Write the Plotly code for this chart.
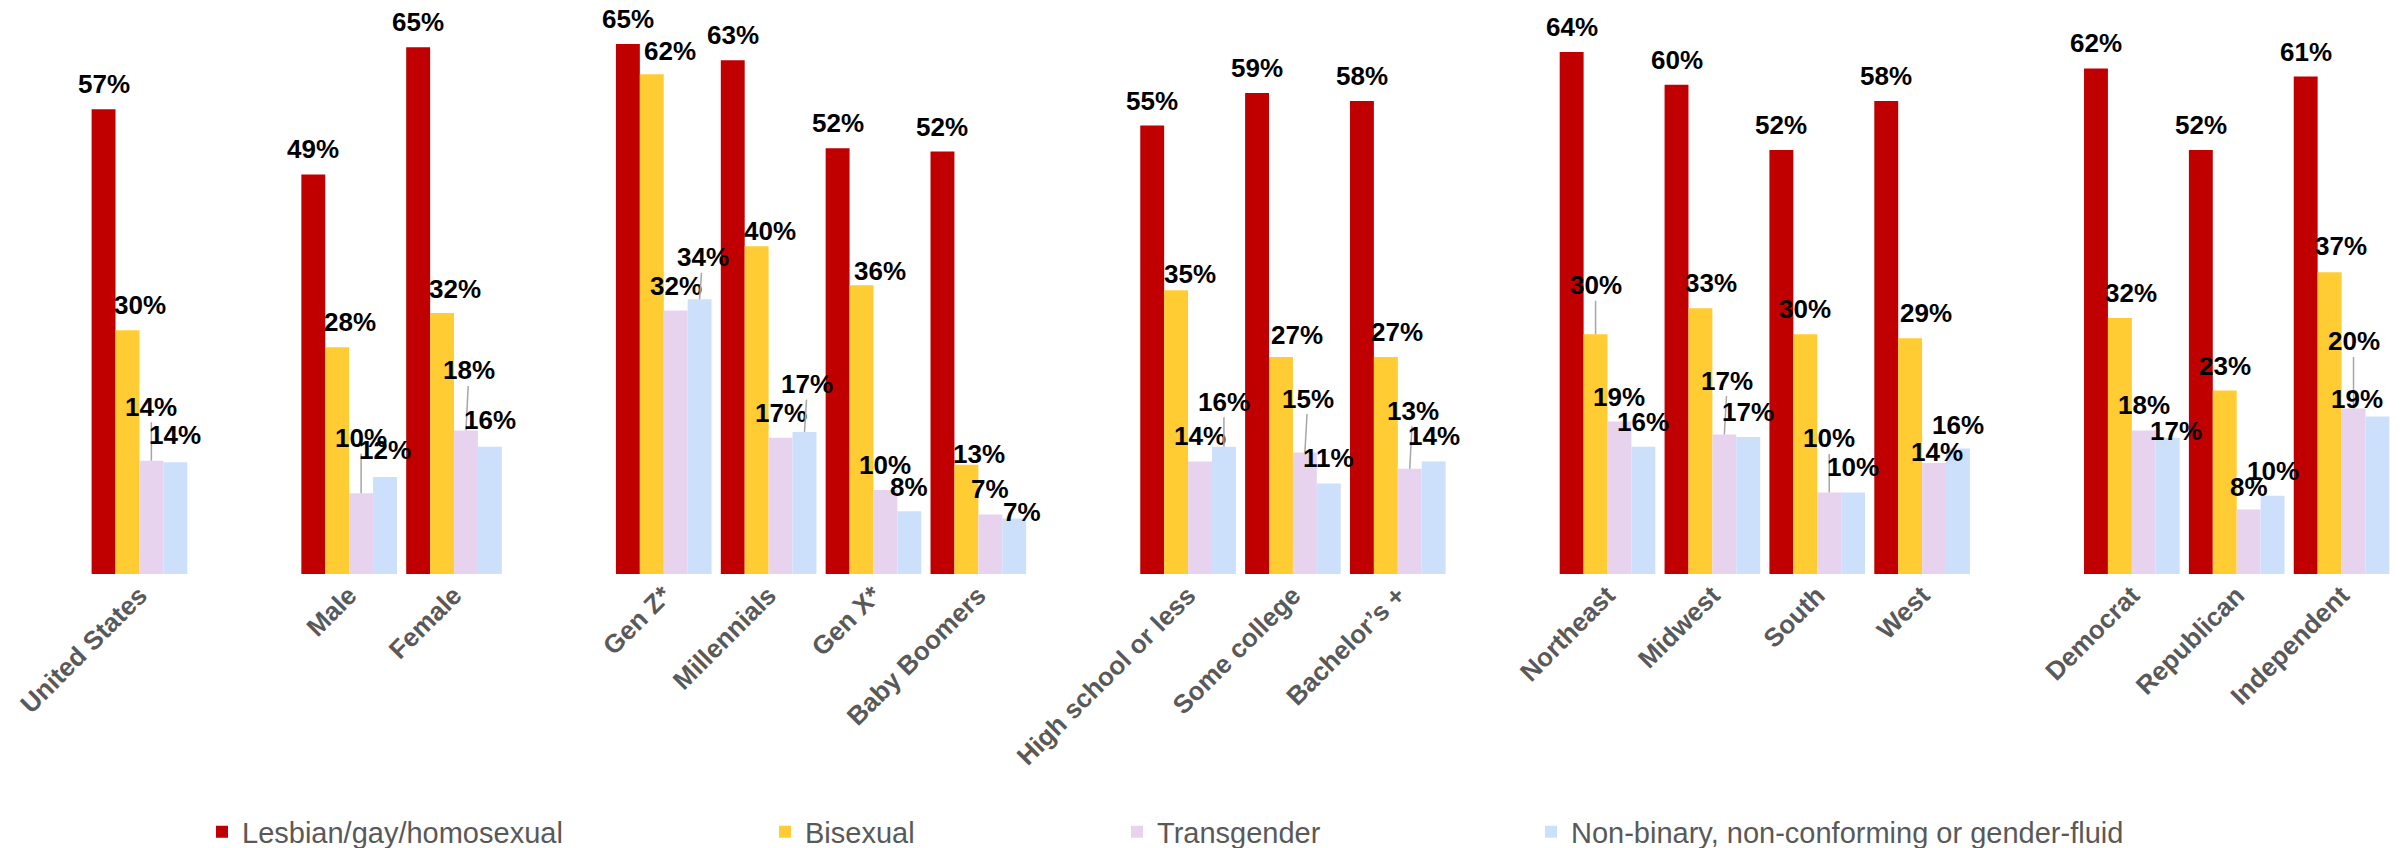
import plotly.graph_objects as go

# ---------------- data ----------------
slots = ["United States", " ", "Male", "Female", "  ", "Gen Z*", "Millennials", "Gen X*",
         "Baby Boomers", "   ", "High school or less", "Some college", "Bachelor’s +", "    ",
         "Northeast", "Midwest", "South", "West", "     ", "Democrat", "Republican", "Independent"]
groups = [s for s in slots if s.strip()]

series_names = ["Lesbian/gay/homosexual", "Bisexual", "Transgender",
                "Non-binary, non-conforming or gender-fluid"]

lgb_values = [57, 49, 64.6, 65, 63, 52.2, 51.8, 55, 59, 58, 64, 60, 52, 58, 62, 52, 61]
bis_values = [29.9, 27.8, 32, 61.3, 40.2, 35.4, 13.4, 34.8, 26.6, 26.6, 29.4, 32.6, 29.4, 28.9, 31.4, 22.5, 37]
trans_values = [13.9, 9.9, 17.6, 32.3, 16.7, 10.3, 7.3, 13.8, 14.9, 12.9, 18.7, 17.1, 10, 13.6, 17.6, 7.9, 20.3]
nonbin_values = [13.7, 11.9, 15.6, 33.7, 17.4, 7.7, 6.8, 15.6, 11.1, 13.8, 15.6, 16.8, 10, 15.4, 16.7, 9.6, 19.3]

lgb_labels = [57, 49, 65, 65, 63, 52, 52, 55, 59, 58, 64, 60, 52, 58, 62, 52, 61]
bis_labels = [30, 28, 32, 62, 40, 36, 13, 35, 27, 27, 30, 33, 30, 29, 32, 23, 37]
trans_labels = [14, 10, 18, 32, 17, 10, 7, 14, 15, 13, 19, 17, 10, 14, 18, 8, 20]
nonbin_labels = [14, 12, 16, 34, 17, 8, 7, 16, 11, 14, 16, 17, 10, 16, 17, 10, 19]

# ---------------- styles ----------------
colors = ["#C00000", "#FFCC33", "#E8D3EE", "#CCE0FB"]
W, H = 2402, 848
ML, MR, MT, MB = 87, 8, 4, 274
BARGAP = 0.088
Y_MAX = 69.9

# label placement tweaks: (series index, group) -> (dx px, height above bar top px, leader line)
DEFAULT_RAISE = 25
label_adjust = {
    (1, "United States"): (13, 25, False), (1, "Male"): (13, 25, False), (1, "Female"): (13, 24, False),
    (1, "Gen Z*"): (18, 23, False), (1, "Millennials"): (13, 15, False), (1, "Gen X*"): (18, 14, False),
    (1, "Baby Boomers"): (13, 11, False), (1, "High school or less"): (14, 16, False),
    (1, "Some college"): (16, 22, False), (1, "Bachelor’s +"): (11, 25, False),
    (1, "Northeast"): (0, 49, True), (1, "Midwest"): (11, 25, False), (1, "West"): (16, 25, False),
    (1, "Democrat"): (11, 25, False), (1, "Independent"): (11, 26, False),
    (2, "United States"): (0, 54, True), (2, "Male"): (0, 55, True), (2, "Female"): (3, 60, True),
    (2, "Some college"): (3, 54, True), (2, "Bachelor’s +"): (3, 58, True),
    (2, "Midwest"): (3, 54, True), (2, "South"): (0, 54, True), (2, "West"): (3, 11, False),
    (2, "Republican"): (0, 23, False), (2, "Independent"): (0, 67, True),
    (3, "United States"): (0, 27, False), (3, "Male"): (0, 27, False), (3, "Female"): (0, 27, False),
    (3, "Gen Z*"): (3, 42, True), (3, "Millennials"): (3, 48, True), (3, "Gen X*"): (0, 24, False),
    (3, "Baby Boomers"): (8, 7, False), (3, "High school or less"): (0, 45, True),
    (3, "West"): (0, 23, False), (3, "Democrat"): (8, 7, False), (3, "Independent"): (-20, 18, False),
}

values = [lgb_values, bis_values, trans_values, nonbin_values]
labels = [lgb_labels, bis_labels, trans_labels, nonbin_labels]

fig = go.Figure()
legend_ids = ["legend", "legend2", "legend3", "legend4"]
for k, name in enumerate(series_names):
    fig.add_trace(go.Bar(
        x=groups, y=values[k], name=name, marker=dict(color=colors[k], line=dict(width=0)),
        legend=legend_ids[k], showlegend=True, hoverinfo="skip",
    ))

plot_w = W - ML - MR
plot_h = H - MT - MB
slot_px = plot_w / len(slots)
bar_px = slot_px * (1 - BARGAP) / len(series_names)

label_font = dict(family="Liberation Sans, Arial, sans-serif", size=26, color="#000000", weight="bold")
annotations = []
for k in range(len(series_names)):
    base_shift = (k - (len(series_names) - 1) / 2) * bar_px
    for g, v, lab in zip(groups, values[k], labels[k]):
        dx, rise, leader = label_adjust.get((k, g), (0, DEFAULT_RAISE, False))
        text = f"{lab}%"
        if leader:
            annotations.append(dict(
                x=g, y=v, xref="x", yref="y", text=text, font=label_font,
                showarrow=True, arrowhead=0, arrowwidth=1.5, arrowcolor="#A6A6A6",
                ax=dx, ay=-rise, xshift=base_shift, standoff=0, borderpad=0,
            ))
        else:
            annotations.append(dict(
                x=g, y=v, xref="x", yref="y", text=text, font=label_font,
                showarrow=False, xanchor="center", yanchor="middle",
                xshift=base_shift + dx, yshift=rise, borderpad=0,
            ))

# legend swatch left edges (px) and vertical centre
legend_swatch_px = [216, 779, 1131, 1545]
legend_center_px = 832
legend_font = dict(family="Liberation Sans, Arial, sans-serif", size=29, color="#595959")
legend_layouts = {}
for k, lid in enumerate(legend_ids):
    legend_layouts[lid] = dict(
        x=(legend_swatch_px[k] - 14 - ML) / plot_w,
        y=(H - MB - legend_center_px) / plot_h,
        xanchor="left", yanchor="middle",
        orientation="h", font=legend_font, bgcolor="rgba(0,0,0,0)", borderwidth=0,
        itemclick=False, itemdoubleclick=False,
    )

fig.update_layout(
    width=W, height=H,
    margin=dict(l=ML, r=MR, t=MT, b=MB, autoexpand=False),
    paper_bgcolor="white", plot_bgcolor="white",
    showlegend=True,
    barmode="group", bargap=BARGAP, bargroupgap=0,
    xaxis=dict(
        type="category", categoryorder="array", categoryarray=slots,
        range=[-0.5, len(slots) - 0.5],
        tickangle=-45, showline=False, showgrid=False, ticks="", automargin=False,
        tickfont=dict(family="Liberation Sans, Arial, sans-serif", size=26, color="#595959",
                      weight="bold"),
    ),
    yaxis=dict(range=[0, Y_MAX], visible=False, showgrid=False, zeroline=False),
    annotations=annotations,
    **legend_layouts,
)

fig.write_html(
    "out.html",
    config={"displayModeBar": False, "staticPlot": True},
    post_script="document.body.style.margin='0';document.body.style.overflow='hidden';",
)
